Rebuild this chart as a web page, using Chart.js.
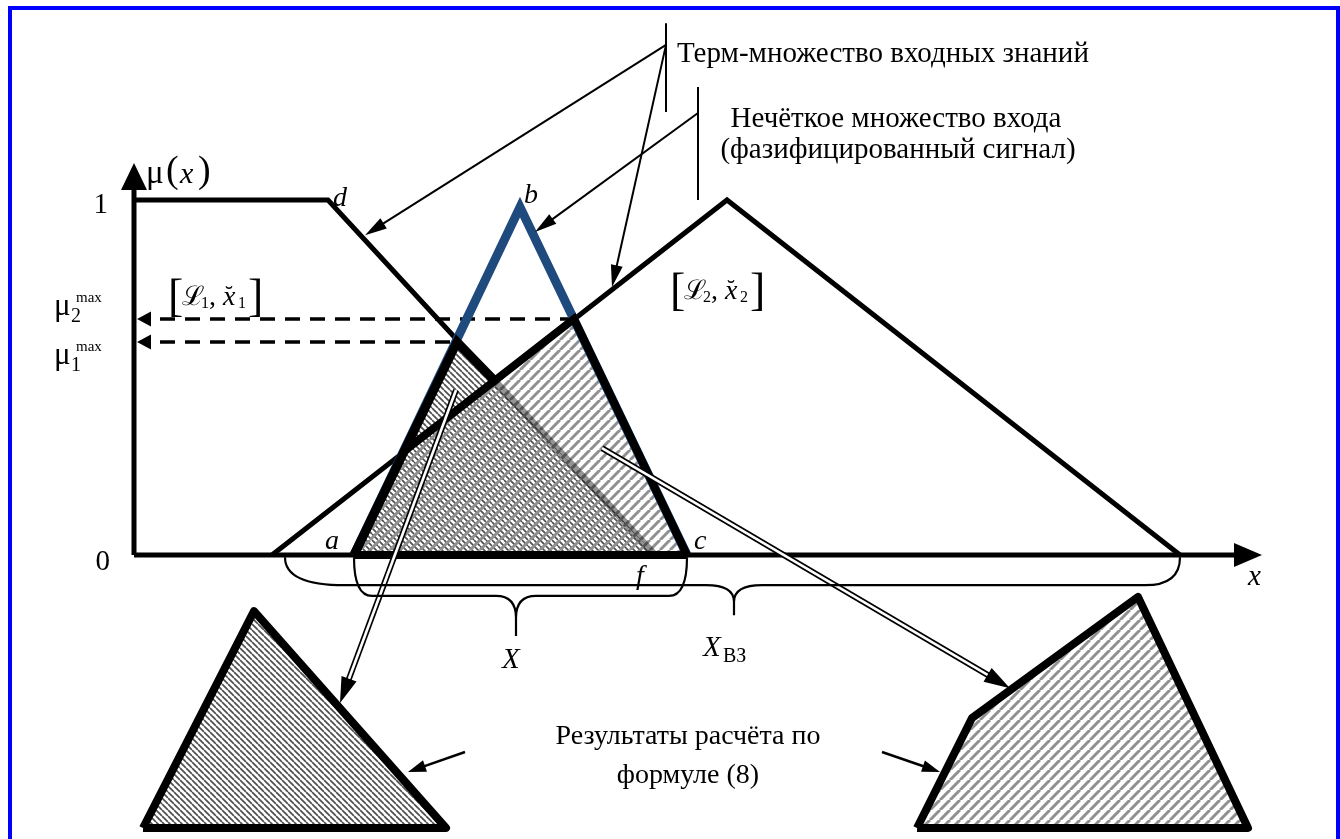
<!DOCTYPE html>
<html lang="ru">
<head>
<meta charset="utf-8">
<title>Нечёткое множество входа</title>
<script src="https://cdn.jsdelivr.net/npm/chart.js@4.4.1/dist/chart.umd.min.js"></script>
<style>
html,body{margin:0;padding:0;background:#fff;overflow:hidden;}
canvas{display:block;}
</style>
</head>
<body>
<canvas id="chart" width="1340" height="839"></canvas>
<script>
// ---------- data: x = universe value, y = membership μ ----------
const termLeft    = [[0, 1], [194, 1], [361, 0.49], [521, 0]];          // left term: 1 … d … f
const termRight   = [[138, 0], [593, 1], [1046, 0]];                     // right term
const inputSet    = [[220, 0], [386, 0.98], [553, 0]];                   // fuzzified input: a, b, c
const result1     = [[220, 0], [323, 0.6], [521, 0]];                    // min(term1, input)
const result2     = [[220, 0], [269, 0.29], [440, 0.665], [553, 0]];     // min(term2, input)
const resultEdgeA = [[220, 0], [323, 0.6], [361, 0.49]];
const resultEdgeB = [[269, 0.29], [440, 0.665], [553, 0]];
const resultBase  = [[220, 0], [553, 0]];
const result1Copy = [[9, -0.769], [120, -0.158], [312, -0.769]];
const result2Copy = [[783, -0.769], [838, -0.459], [1004, -0.118], [1114, -0.769]];
const copyBase    = -0.769;
const muMaxLevels = [0.6, 0.665];                                        // μ1max, μ2max
const muMaxReach  = [323, 440];
const axisXLine   = [[0, 0], [1101, 0]];
const axisYLine   = [[0, 0], [0, 1.028]];
const braceX      = [220, 553, 382];     // a … c, tip
const braceXvz    = [151, 1046, 600];
const tickLabels  = ['0', '1'];

// ---------- helpers ----------
const toXY = arr => arr.map(([x, y]) => ({x, y}));
const closed = arr => arr.concat([arr[0]]);
function makePattern(period, dir, color, lw) {
  const cv = document.createElement('canvas');
  cv.width = period; cv.height = period;
  const g = cv.getContext('2d');
  g.strokeStyle = color; g.lineWidth = lw; g.lineCap = 'butt';
  g.beginPath();
  for (let k = -1; k <= 1; k++) {
    if (dir > 0) { g.moveTo(k * period, period); g.lineTo(k * period + period, 0); }
    else { g.moveTo(k * period, 0); g.lineTo(k * period + period, period); }
  }
  g.stroke();
  return g.createPattern(cv, 'repeat');
}
const patBack = makePattern(6, -1, '#505050', 1.7);
const patFwd  = makePattern(10, 1, '#909090', 3);
const BLUE = '#1F4A7E';

function line(points, o) {
  return Object.assign({
    type: 'line', data: toXY(points), pointRadius: 0, borderColor: '#000',
    borderWidth: 5, fill: false, tension: 0, clip: false,
    borderJoinStyle: 'miter', borderCapStyle: 'butt'
  }, o);
}

const datasets = [
  line(result1, {borderWidth: 0, fill: 'origin', backgroundColor: patBack}),
  line(result2, {borderWidth: 0, fill: 'origin', backgroundColor: patFwd}),
  line(result1Copy, {borderWidth: 0, fill: {value: copyBase}, backgroundColor: patBack}),
  line(result2Copy, {borderWidth: 0, fill: {value: copyBase}, backgroundColor: patFwd}),
  line(closed(result1Copy), {borderWidth: 8, borderJoinStyle: 'round'}),
  line(closed(result2Copy), {borderWidth: 8, borderJoinStyle: 'round'}),
  line(axisXLine, {borderWidth: 5}),
  line(axisYLine, {borderWidth: 5}),
  line(termLeft, {borderWidth: 5, segment: {borderColor: c => c.p0DataIndex === 2 ? 'rgba(0,0,0,0.42)' : '#000',
                                            borderWidth: c => c.p0DataIndex === 2 ? 7 : 5}}),
  line(termRight, {borderWidth: 5}),
  line([[26, muMaxLevels[1]], [muMaxReach[1], muMaxLevels[1]]], {borderWidth: 3.5, borderDash: [15, 10]}),
  line([[26, muMaxLevels[0]], [muMaxReach[0], muMaxLevels[0]]], {borderWidth: 3.5, borderDash: [15, 10]}),
  line(inputSet, {borderWidth: 9, borderColor: BLUE}),
  line(resultBase, {borderWidth: 8}),
  line(resultEdgeB, {borderWidth: 8}),
  line(resultEdgeA, {borderWidth: 9}),
];
datasets.forEach((d, i) => { d.order = datasets.length - i; });

// ---------- annotation plugin (arrows, braces, labels, frame) ----------
function head(c, from, to, len, half) {
  const a = Math.atan2(to[1] - from[1], to[0] - from[0]);
  const bx = to[0] - len * Math.cos(a), by = to[1] - len * Math.sin(a);
  const px = -Math.sin(a) * half, py = Math.cos(a) * half;
  c.beginPath();
  c.moveTo(to[0], to[1]);
  c.lineTo(bx + px, by + py);
  c.lineTo(bx - px, by - py);
  c.closePath();
  c.fillStyle = '#000';
  c.fill();
}
function arrow(c, from, to, lw, len, half) {
  const a = Math.atan2(to[1] - from[1], to[0] - from[0]);
  c.beginPath();
  c.moveTo(from[0], from[1]);
  c.lineTo(to[0] - (len - 2) * Math.cos(a), to[1] - (len - 2) * Math.sin(a));
  c.lineWidth = lw; c.strokeStyle = '#000'; c.stroke();
  head(c, from, to, len, half);
}
function dblArrow(c, from, to, len, half) {
  const a = Math.atan2(to[1] - from[1], to[0] - from[0]);
  const ex = to[0] - (len - 2) * Math.cos(a), ey = to[1] - (len - 2) * Math.sin(a);
  c.lineCap = 'butt';
  c.beginPath(); c.moveTo(from[0], from[1]); c.lineTo(ex, ey);
  c.lineWidth = 6; c.strokeStyle = '#000'; c.stroke();
  c.beginPath(); c.moveTo(from[0], from[1]); c.lineTo(ex, ey);
  c.lineWidth = 2.6; c.strokeStyle = '#fff'; c.stroke();
  head(c, from, to, len, half);
}
function brace(c, x1, x2, xm, y0, yh, yt, r1, r2, rm) {
  const ym = yh + (yt - yh) * 0.55;
  c.beginPath();
  c.moveTo(x1, y0);
  c.quadraticCurveTo(x1, yh, x1 + r1, yh);
  c.lineTo(xm - rm, yh);
  c.quadraticCurveTo(xm, yh, xm, ym);
  c.lineTo(xm, yt);
  c.moveTo(xm, ym);
  c.quadraticCurveTo(xm, yh, xm + rm, yh);
  c.lineTo(x2 - r2, yh);
  c.quadraticCurveTo(x2, yh, x2, y0);
  c.lineWidth = 2.2; c.strokeStyle = '#000'; c.stroke();
}
const SERIF = '"Liberation Serif", "Times New Roman", "DejaVu Serif", serif';
function txt(c, s, p, size, opt = {}) {
  c.font = (opt.bold ? 'bold ' : '') + (opt.italic ? 'italic ' : '') + size + 'px ' + SERIF;
  c.textAlign = opt.align || 'left';
  c.textBaseline = 'alphabetic';
  c.fillStyle = '#000';
  c.fillText(s, p[0] + (opt.dx || 0), p[1] + (opt.dy || 0));
}
function muMaxLabel(c, p, idx) {
  txt(c, 'μ', p, 31);
  txt(c, idx, p, 20, {dx: 17, dy: 7});
  txt(c, 'max', p, 15, {dx: 22, dy: -13});
}
function setLabel(c, p, idx) {
  txt(c, '[', p, 46, {dy: 6});
  txt(c, 'ℒ', p, 27, {dx: 14});
  txt(c, idx, p, 16, {dx: 33, dy: 3});
  txt(c, ',', p, 28, {dx: 41});
  txt(c, 'x', p, 28, {dx: 55, italic: true});
  txt(c, '˘', p, 24, {dx: 57, dy: -3});
  txt(c, idx, p, 16, {dx: 70, dy: 3});
  txt(c, ']', p, 46, {dx: 80, dy: 6});
}

const annot = {
  id: 'annot',
  afterDatasetsDraw(chart) {
    const c = chart.ctx, sx = chart.scales.x, sy = chart.scales.y;
    const P = (x, y) => [sx.getPixelForValue(x), sy.getPixelForValue(y)];
    c.save();
    // axis arrow heads
    head(c, P(0, 1.0), P(0, 1.104), 27, 13);
    head(c, P(1080, 0), P(1128, 0), 28, 12);
    // μmax arrow heads (pointing at the μ axis)
    muMaxLevels.forEach(m => head(c, P(40, m), P(3, m), 14, 7.5));

    // leader lines
    c.lineCap = 'butt';
    c.lineWidth = 2; c.strokeStyle = '#000';
    c.beginPath();
    c.moveTo(...P(532, 1.498)); c.lineTo(...P(532, 1.248));
    c.moveTo(...P(564, 1.318)); c.lineTo(...P(564, 1.0));
    c.stroke();
    arrow(c, P(532, 1.437), P(231, 0.901), 2, 22, 6);
    arrow(c, P(532, 1.437), P(478, 0.755), 2, 22, 6);
    arrow(c, P(564, 1.245), P(401, 0.910), 2, 22, 6);

    // double arrows to the result shapes
    dblArrow(c, P(322, 0.465), P(206, -0.417), 26, 8);
    dblArrow(c, P(468, 0.301), P(876, -0.375), 26, 8);
    // small arrows from the caption
    arrow(c, P(331, -0.555), P(274, -0.611), 2.5, 18, 6);
    arrow(c, P(748, -0.555), P(806, -0.611), 2.5, 18, 6);

    // braces
    const y0 = sy.getPixelForValue(-0.006);
    brace(c, ...braceXvz.map(v => sx.getPixelForValue(v)),
          y0, sy.getPixelForValue(-0.085), sy.getPixelForValue(-0.17), 60, 35, 28);
    brace(c, ...braceX.map(v => sx.getPixelForValue(v)),
          y0, sy.getPixelForValue(-0.115), sy.getPixelForValue(-0.228), 18, 18, 20);

    // axis texts
    txt(c, 'μ', P(12, 1.048), 33);
    txt(c, '(', P(32, 1.05), 38);
    txt(c, 'x', P(46, 1.048), 30, {italic: true});
    txt(c, ')', P(64, 1.05), 38);
    txt(c, tickLabels[1], P(-26, 0.963), 29, {align: 'right'});
    txt(c, tickLabels[0], P(-24, -0.042), 29, {align: 'right'});
    txt(c, 'x', P(1114, -0.085), 29, {italic: true});
    muMaxLabel(c, P(-80, 0.676), '2');
    muMaxLabel(c, P(-80, 0.538), '1');
    setLabel(c, P(34, 0.703), '1');
    setLabel(c, P(536, 0.72), '2');

    // point letters
    txt(c, 'd', P(199, 0.983), 28, {italic: true});
    txt(c, 'b', P(390, 0.992), 28, {italic: true});
    txt(c, 'a', P(191, 0.017), 28, {italic: true});
    txt(c, 'c', P(560, 0.017), 28, {italic: true});
    txt(c, 'f', P(502, -0.082), 28, {italic: true});
    txt(c, 'X', P(368, -0.318), 29, {italic: true});
    txt(c, 'X', P(569, -0.285), 29, {italic: true});
    txt(c, 'ВЗ', P(589, -0.3), 20);

    // captions
    txt(c, 'Терм-множество входных знаний', P(543, 1.389), 29);
    txt(c, 'Нечёткое множество входа', P(762, 1.2056), 29, {align: 'center'});
    txt(c, '(фазифицированный сигнал)', P(764, 1.1183), 29, {align: 'center'});
    txt(c, 'Результаты расчёта по', P(554, -0.532), 28, {align: 'center'});
    txt(c, 'формуле (8)', P(554, -0.642), 28, {align: 'center'});
    c.restore();
  },
  afterDraw(chart) {
    const c = chart.ctx;
    c.save();
    c.strokeStyle = '#0000FF';
    c.lineWidth = 4;
    c.strokeRect(10, 8, 1328, 860);
    c.restore();
  }
};

new Chart(document.getElementById('chart'), {
  type: 'line',
  data: {datasets},
  options: {
    responsive: false,
    animation: false,
    devicePixelRatio: 1,
    events: [],
    layout: {padding: 0, autoPadding: false},
    scales: {
      x: {type: 'linear', min: -134, max: 1206, display: false},
      y: {type: 'linear', min: -0.8, max: 1.56338, display: false}
    },
    plugins: {legend: {display: false}, tooltip: {enabled: false}, title: {display: false}}
  },
  plugins: [annot]
});
</script>
</body>
</html>
